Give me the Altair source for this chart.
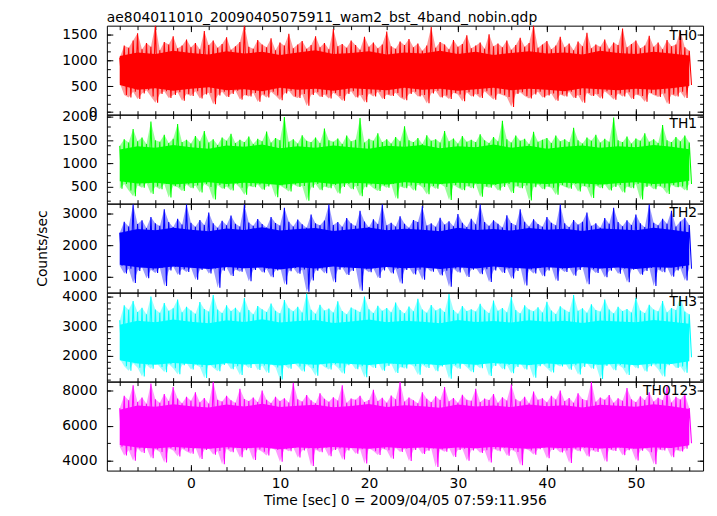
import math
import altair as alt
import pandas as pd

TITLE = "ae804011010_20090405075911_wam2_bst_4band_nobin.qdp"
X_TITLE = "Time [sec] 0 = 2009/04/05 07:59:11.956"
Y_TITLE = "Counts/sec"
PANEL_NAMES = ["TH0", "TH1", "TH2", "TH3", "TH0123"]
COLORS = ["#ff0000", "#00ff00", "#0000ff", "#00ffff", "#ff00ff"]

# fine samples: one upper and one lower value read per half second
T_START = -8.0
T_STEP = 0.5
# dense core of each light curve: upper / lower edge read every 2 s
CORE_STEP = 2.0

TH0_HIGH = [
    1050, 1280, 1240, 1380, 1520, 1210, 1330, 1260, 1680, 1190, 1350, 1300, 1460, 1230, 1280, 1400,
    1250, 1330, 1210, 1560, 1290, 1380, 1240, 1310, 1440, 1200, 1270, 1350, 1680, 1260, 1220, 1390,
    1300, 1250, 1420, 1190, 1340, 1280, 1510, 1230, 1300, 1370, 1220, 1290, 1460, 1250, 1330, 1210,
    1600, 1270, 1310, 1240, 1380, 1290, 1200, 1450, 1260, 1340, 1230, 1300, 1550, 1270, 1220, 1360,
    1290, 1410, 1250, 1320, 1180, 1280, 1640, 1240, 1350, 1300, 1210, 1390, 1260, 1310, 1480, 1230,
    1280, 1340, 1220, 1500, 1270, 1320, 1250, 1380, 1200, 1290, 1430, 1260, 1330, 1680, 1240, 1300,
    1370, 1210, 1280, 1450, 1250, 1320, 1190, 1360, 1270, 1530, 1230, 1300, 1260, 1400, 1220, 1340,
    1290, 1610, 1250, 1310, 1380, 1230, 1280, 1470, 1260, 1340, 1210, 1390, 1270, 1300, 1560, 1250, 1180,
]
TH0_LOW = [
    560, 330, 280, 390, 250, 360, 420, 300, 180, 350, 400, 270, 330, 380, 220, 350,
    310, 400, 260, 340, 370, 150, 320, 390, 290, 350, 410, 240, 330, 300, 370, 200,
    340, 280, 390, 320, 230, 360, 410, 300, 270, 350, 120, 330, 380, 290, 340, 260,
    370, 310, 220, 350, 400, 280, 330, 190, 360, 300, 390, 250, 340, 310, 370, 280,
    230, 350, 390, 300, 330, 170, 360, 410, 280, 320, 250, 370, 340, 210, 380, 300,
    350, 270, 400, 320, 240, 360, 330, 290, 100, 350, 380, 310, 260, 340, 390, 280,
    320, 360, 220, 340, 300, 390, 270, 330, 180, 370, 310, 350, 260, 400, 330, 240,
    360, 300, 380, 250, 340, 310, 200, 370, 330, 290, 360, 160, 340, 300, 390, 270, 520,
]
TH1_HIGH = [
    1380, 1520, 1450, 1740, 1480, 1560, 1420, 1900, 1500, 1470, 1620, 1440, 1530, 1850, 1460, 1510,
    1430, 1590, 1480, 1700, 1450, 1520, 1400, 1560, 1490, 1640, 1440, 1510, 1460, 1580, 1420, 1530,
    1480, 1690, 1450, 1550, 1500, 2000, 1470, 1520, 1430, 1610, 1490, 1460, 1560, 1440, 1750, 1500,
    1470, 1540, 1420, 1600, 1480, 1510, 1980, 1450, 1530, 1490, 1650, 1460, 1520, 1430, 1570, 1480,
    1800, 1500, 1460, 1550, 1420, 1610, 1490, 1520, 1450, 1700, 1480, 1540, 1430, 1590, 1470, 1510,
    1460, 1630, 1500, 1440, 1570, 1480, 1920, 1520, 1450, 1600, 1490, 1530, 1420, 1680, 1470, 1510,
    1550, 1440, 1600, 1480, 1520, 1460, 1770, 1500, 1430, 1560, 1490, 1620, 1450, 1530, 1470, 1990,
    1500, 1460, 1580, 1430, 1540, 1490, 1650, 1470, 1520, 1440, 1830, 1500, 1460, 1570, 1480, 1600, 1450,
]
TH1_LOW = [
    460, 560, 420, 300, 530, 480, 580, 350, 510, 450, 560, 270, 520, 490, 410, 550,
    470, 530, 380, 560, 500, 230, 540, 460, 510, 420, 570, 480, 330, 520, 490, 550,
    440, 510, 560, 280, 530, 470, 400, 550, 500, 520, 200, 480, 560, 430, 510, 470,
    540, 360, 500, 560, 450, 520, 300, 490, 550, 470, 410, 530, 480, 560, 250, 510,
    470, 530, 420, 550, 490, 340, 520, 460, 560, 500, 220, 540, 480, 430, 520, 470,
    560, 290, 510, 480, 540, 420, 500, 560, 370, 520, 470, 530, 210, 490, 550, 450,
    510, 480, 330, 540, 500, 460, 560, 400, 520, 490, 260, 530, 470, 550, 420, 500,
    540, 380, 510, 470, 560, 230, 500, 530, 450, 520, 480, 350, 540, 490, 510, 430, 560,
]
TH2_HIGH = [
    2400, 2750, 2600, 3300, 2680, 2800, 2550, 2900, 2700, 2620, 3150, 2740, 2580, 2850, 2660, 3300,
    2720, 2590, 2810, 2650, 3050, 2700, 2560, 2780, 2640, 2950, 2690, 2600, 3300, 2730, 2620, 2840,
    2680, 2570, 2900, 2710, 2630, 3200, 2750, 2600, 2820, 2670, 2560, 2980, 2700, 2640, 2790, 3300,
    2650, 2740, 2590, 2870, 2700, 2620, 3100, 2760, 2580, 2830, 2680, 3300, 2640, 2720, 2600, 2930,
    2690, 2560, 2810, 2740, 3250, 2630, 2700, 2590, 2880, 2660, 2770, 2610, 3000, 2720, 2580, 2850,
    2670, 3300, 2740, 2620, 2800, 2690, 2570, 2960, 2710, 2640, 3150, 2750, 2600, 2830, 2680, 2590,
    2900, 2720, 2640, 3300, 2700, 2580, 2810, 2660, 2750, 3050, 2620, 2700, 2560, 2870, 2690, 3200,
    2740, 2610, 2800, 2650, 2980, 2700, 2580, 3300, 2720, 2640, 2850, 2690, 3100, 2600, 2760, 2880, 2650,
]
TH2_LOW = [
    1350, 1100, 1250, 800, 1180, 1300, 950, 1220, 1120, 1280, 700, 1200, 1320, 1060, 1240, 1150,
    1290, 900, 1210, 1330, 1100, 1260, 650, 1190, 1300, 1020, 1230, 1160, 1280, 850, 1210, 1310,
    1130, 1250, 980, 1200, 1320, 750, 1170, 1280, 1090, 1230, 520, 880, 1190, 1260, 1110, 1340,
    820, 1220, 1290, 1050, 1180, 1310, 550, 1240, 1140, 1270, 960, 1200, 1330, 1100, 1250, 780,
    1210, 1300, 1070, 1230, 900, 1280, 1160, 1320, 1040, 1190, 680, 1260, 1130, 1300, 990, 1220,
    1290, 1080, 1240, 830, 1200, 1310, 1120, 1260, 940, 1180, 1330, 720, 1230, 1100, 1280, 1010,
    1200, 1320, 870, 1250, 1150, 1290, 1030, 1210, 1300, 760, 1240, 1120, 1270, 980, 1190, 1310,
    1090, 1250, 820, 1220, 1300, 1060, 1180, 1280, 700, 1230, 1140, 1310, 1000, 1200, 1270, 880, 1250,
]
TH3_HIGH = [
    3200, 3700, 3550, 3850, 3480, 3620, 3400, 4000, 3560, 3450, 3780, 3520, 3600, 3900, 3470, 3650,
    3530, 3420, 3810, 3580, 3490, 4050, 3560, 3440, 3700, 3510, 3620, 3460, 3950, 3540, 3400, 3680,
    3570, 3480, 3760, 3520, 3430, 3880, 3600, 3500, 3650, 3460, 4100, 3550, 3420, 3720, 3530, 3590,
    3460, 3840, 3510, 3400, 3630, 3550, 3480, 4000, 3570, 3440, 3690, 3520, 3610, 3470, 3800, 3540,
    3430, 3660, 3500, 3920, 3560, 3450, 3710, 3530, 3600, 3480, 4080, 3540, 3420, 3680, 3510, 3570,
    3490, 3750, 3550, 3440, 3860, 3520, 3610, 3470, 3980, 3540, 3430, 3700, 3560, 3500, 3640, 3460,
    3820, 3530, 3410, 3670, 3550, 3480, 4050, 3520, 3600, 3450, 3740, 3540, 3490, 3900, 3560, 3430,
    3650, 3510, 3580, 3460, 3960, 3530, 3440, 3720, 3560, 3500, 3850, 3470, 3610, 3540, 4000, 3490, 3400,
]
TH3_LOW = [
    1900, 1650, 1500, 1750, 1600, 1300, 1700, 1560, 1800, 1620, 1450, 1720, 1580, 1380, 1680, 1760,
    1540, 1700, 1620, 1250, 1740, 1600, 1480, 1690, 1770, 1550, 1650, 1350, 1710, 1590, 1800, 1520,
    1670, 1430, 1730, 1610, 1200, 1690, 1560, 1780, 1640, 1470, 1700, 1580, 1330, 1750, 1620, 1540,
    1720, 1600, 1400, 1680, 1760, 1550, 1650, 1280, 1710, 1590, 1790, 1500, 1660, 1730, 1420, 1620,
    1570, 1740, 1650, 1360, 1700, 1590, 1770, 1480, 1640, 1720, 1230, 1680, 1560, 1750, 1610, 1450,
    1700, 1580, 1780, 1320, 1660, 1730, 1550, 1690, 1410, 1620, 1760, 1540, 1700, 1260, 1650, 1720,
    1590, 1440, 1710, 1640, 1780, 1530, 1680, 1370, 1620, 1750, 1560, 1700, 1220, 1660, 1740, 1510,
    1690, 1600, 1350, 1730, 1580, 1770, 1470, 1650, 1710, 1550, 1300, 1680, 1760, 1590, 1640, 1430, 1950,
]
TH0123_HIGH = [
    7000, 7700, 7450, 8300, 7350, 7600, 7250, 8400, 7500, 7300, 7800, 7400, 8200, 7550, 7280, 7650,
    7420, 7900, 7330, 7580, 7260, 8500, 7480, 7370, 7700, 7450, 7310, 8100, 7520, 7400, 7600, 7350,
    8000, 7470, 7290, 7650, 7410, 7560, 7320, 8450, 7500, 7380, 7750, 7440, 7270, 7850, 7530, 7360,
    7620, 7430, 8300, 7310, 7550, 7480, 7700, 7350, 7460, 8050, 7400, 7590, 7300, 7720, 7510, 8500,
    7380, 7600, 7450, 7280, 7900, 7530, 7340, 7680, 7460, 8200, 7390, 7570, 7300, 7760, 7480, 7420,
    8100, 7350, 7540, 7460, 7800, 7300, 7620, 7430, 8350, 7500, 7380, 7650, 7270, 7950, 7470, 7560,
    7330, 7700, 7490, 8000, 7400, 7580, 7310, 7850, 7520, 7440, 8500, 7360, 7610, 7480, 7750, 7300,
    7560, 7420, 8150, 7500, 7340, 7680, 7460, 7900, 7380, 7590, 7450, 8250, 7320, 7640, 7490, 7800, 7000,
]
TH0123_LOW = [
    4800, 4300, 4600, 4000, 4700, 4450, 4750, 4150, 4650, 4500, 3900, 4720, 4580, 4250, 4680, 4530,
    4400, 4760, 4100, 4620, 4700, 4350, 4560, 3800, 4690, 4480, 4740, 4200, 4600, 4710, 4050, 4650,
    4520, 4300, 4730, 4610, 3950, 4670, 4540, 4760, 4180, 4590, 4700, 3700, 4640, 4480, 4750, 4260,
    4620, 4700, 4070, 4580, 4730, 4400, 4660, 3850, 4710, 4550, 4330, 4690, 4600, 4120, 4740, 4500,
    4680, 3990, 4620, 4750, 4380, 4570, 4700, 3650, 4640, 4520, 4730, 4220, 4610, 4690, 4000, 4580,
    4720, 4450, 4600, 3900, 4680, 4550, 4740, 4280, 4630, 4500, 3750, 4700, 4590, 4350, 4660, 4760,
    4150, 4610, 4700, 4470, 4580, 3880, 4690, 4540, 4730, 4240, 4620, 4500, 4710, 3960, 4650, 4560,
    4740, 4320, 4600, 4680, 4020, 4570, 4710, 4480, 3800, 4650, 4590, 4740, 4200, 4620, 4530, 4690, 5000,
]

TH0_CORE_HIGH = [1080, 1150, 1120, 1180, 1140, 1110, 1170, 1130, 1160, 1100, 1150, 1190, 1120, 1140,
                 1170, 1110, 1150, 1130, 1180, 1120, 1160, 1100, 1140, 1170, 1130, 1150, 1110, 1180,
                 1140, 1120, 1160, 1130, 1090]
TH0_CORE_LOW = [520, 430, 460, 410, 450, 480, 420, 440, 400, 470, 430, 450, 410, 460, 440, 420, 470,
                430, 450, 410, 440, 470, 420, 450, 430, 400, 460, 440, 420, 450, 430, 460, 500]
TH1_CORE_HIGH = [1300, 1370, 1340, 1400, 1350, 1320, 1390, 1360, 1410, 1330, 1370, 1340, 1390, 1350,
                 1320, 1380, 1360, 1400, 1330, 1370, 1350, 1410, 1340, 1380, 1320, 1360, 1390, 1340,
                 1370, 1350, 1400, 1360, 1310]
TH1_CORE_LOW = [620, 570, 590, 550, 580, 600, 560, 590, 570, 540, 580, 600, 560, 590, 570, 550, 600,
                580, 560, 590, 570, 550, 600, 580, 560, 590, 570, 550, 580, 600, 560, 580, 630]
TH2_CORE_HIGH = [2400, 2520, 2480, 2560, 2500, 2450, 2540, 2490, 2580, 2470, 2520, 2550, 2460, 2510,
                 2570, 2480, 2530, 2500, 2450, 2560, 2490, 2520, 2470, 2550, 2500, 2530, 2460, 2540,
                 2510, 2480, 2560, 2500, 2420]
TH2_CORE_LOW = [1380, 1300, 1260, 1320, 1280, 1240, 1310, 1270, 1290, 1230, 1300, 1260, 1320, 1280,
                1250, 1310, 1270, 1290, 1240, 1300, 1260, 1320, 1280, 1250, 1300, 1270, 1310, 1260,
                1290, 1240, 1300, 1280, 1360]
TH3_CORE_HIGH = [3050, 3180, 3130, 3220, 3150, 3100, 3200, 3140, 3230, 3120, 3170, 3210, 3110, 3160,
                 3220, 3130, 3180, 3150, 3100, 3210, 3140, 3170, 3120, 3200, 3150, 3180, 3110, 3190,
                 3160, 3130, 3210, 3150, 3080]
TH3_CORE_LOW = [1850, 1740, 1700, 1760, 1720, 1680, 1750, 1710, 1730, 1670, 1740, 1700, 1760, 1720,
                1690, 1750, 1710, 1730, 1680, 1740, 1700, 1760, 1720, 1690, 1740, 1710, 1750, 1700,
                1730, 1680, 1740, 1720, 1820]
TH0123_CORE_HIGH = [6900, 7150, 7080, 7220, 7100, 7030, 7200, 7090, 7250, 7060, 7140, 7190, 7050,
                    7120, 7230, 7070, 7160, 7110, 7020, 7200, 7090, 7150, 7060, 7210, 7100, 7170,
                    7040, 7190, 7130, 7080, 7220, 7110, 6950]
TH0123_CORE_LOW = [4900, 4760, 4700, 4790, 4730, 4680, 4770, 4720, 4750, 4660, 4760, 4710, 4790, 4730,
                   4690, 4770, 4720, 4750, 4680, 4760, 4710, 4790, 4730, 4690, 4760, 4720, 4770, 4700,
                   4750, 4680, 4760, 4730, 4880]

HIGHS = [TH0_HIGH, TH1_HIGH, TH2_HIGH, TH3_HIGH, TH0123_HIGH]
LOWS = [TH0_LOW, TH1_LOW, TH2_LOW, TH3_LOW, TH0123_LOW]
CORE_HIGHS = [TH0_CORE_HIGH, TH1_CORE_HIGH, TH2_CORE_HIGH, TH3_CORE_HIGH, TH0123_CORE_HIGH]
CORE_LOWS = [TH0_CORE_LOW, TH1_CORE_LOW, TH2_CORE_LOW, TH3_CORE_LOW, TH0123_CORE_LOW]

X_DOMAIN = [-9.45, 57.55]
X_LABELS = [0, 10, 20, 30, 40, 50]
X_MINOR_STEP = 2
Y_DOMAINS = [[-50, 1665], [140, 2050], [490, 3330], [1130, 4130], [3440, 8510]]
Y_LABELS = [[0, 500, 1000, 1500], [500, 1000, 1500, 2000], [1000, 2000, 3000],
            [2000, 3000, 4000], [4000, 6000, 8000]]
Y_MINOR_STEPS = [500 / 3, 200, 1000 / 3, 200, 1000]

W = 603
H = 90
FONT = "DejaVu Sans"
FS = 14


def multiples(step, lo, hi):
    return [k * step for k in range(math.ceil(lo / step), math.floor(hi / step) + 1)]


X_MINOR = multiples(X_MINOR_STEP, X_DOMAIN[0], X_DOMAIN[1])


def series_frame(hi, lo):
    rows = []
    for i, (h, l) in enumerate(zip(hi, lo)):
        t = T_START + T_STEP * i
        rows.append({"t": t, "v": h})
        rows.append({"t": t + T_STEP / 2, "v": l})
    return pd.DataFrame(rows)


def band_frame(hi, lo, step):
    n = min(len(hi), len(lo))
    return pd.DataFrame({
        "t": [T_START + step * i for i in range(n)],
        "hi": hi[:n],
        "lo": lo[:n],
    })


def tick_axis(orient, values, size, offset):
    return alt.Axis(orient=orient, values=values, tickSize=size, offset=offset,
                    labels=False, domain=False, grid=False, ticks=True, title=None,
                    tickColor="black", tickWidth=1)


panels = []
for idx, name in enumerate(PANEL_NAMES):
    df = series_frame(HIGHS[idx], LOWS[idx])
    bf = band_frame(HIGHS[idx], LOWS[idx], T_STEP)
    cf = band_frame(CORE_HIGHS[idx], CORE_LOWS[idx], CORE_STEP)
    ydom = Y_DOMAINS[idx]
    ymaj = Y_LABELS[idx]
    ymin = multiples(Y_MINOR_STEPS[idx], ydom[0], ydom[1])
    xs = alt.Scale(domain=X_DOMAIN, nice=False, zero=False)
    ys = alt.Scale(domain=ydom, nice=False, zero=False)
    last = idx == len(PANEL_NAMES) - 1
    middle = idx == 2

    if last:
        x_lab = alt.Axis(orient="bottom", values=X_LABELS, ticks=False, tickSize=0, domain=False,
                         grid=False, labelPadding=6, labelFont=FONT, labelFontSize=FS,
                         labelColor="black", format="d", title=X_TITLE, titleFont=FONT,
                         titleFontSize=FS, titleFontWeight="normal", titleColor="black",
                         titlePadding=3)
    else:
        x_lab = None
    y_kw = dict(orient="left", values=ymaj, ticks=False, tickSize=0, domain=False, grid=False,
                labelPadding=10, labelFont=FONT, labelFontSize=FS, labelColor="black",
                format="d", labelOverlap=False)
    if middle:
        y_lab = alt.Axis(title=Y_TITLE, titleFont=FONT, titleFontSize=FS,
                         titleFontWeight="normal", titleColor="black", titlePadding=12, **y_kw)
    else:
        y_lab = alt.Axis(title=None, **y_kw)

    fringe = alt.Chart(bf).mark_area(color=COLORS[idx], opacity=0.4, clip=True).encode(
        x=alt.X("t:Q", scale=xs, axis=x_lab),
        y=alt.Y("hi:Q", scale=ys, axis=y_lab),
        y2="lo:Q",
    )
    line = alt.Chart(df).mark_line(color=COLORS[idx], strokeWidth=1.1, clip=True).encode(
        x=alt.X("t:Q", scale=xs, axis=None),
        y=alt.Y("v:Q", scale=ys, axis=None),
    )
    core = alt.Chart(cf).mark_area(color=COLORS[idx], opacity=1, clip=True).encode(
        x=alt.X("t:Q", scale=xs, axis=None),
        y=alt.Y("hi:Q", scale=ys, axis=None),
        y2="lo:Q",
    )
    inv = alt.Chart(df.iloc[:1]).mark_point(opacity=0)
    t_layers = []
    for xo, yo in [("top", "right"), ("bottom", "left")]:
        t_layers.append(inv.encode(
            x=alt.X("t:Q", scale=xs, axis=tick_axis(xo, X_LABELS, 6, -H)),
            y=alt.Y("v:Q", scale=ys, axis=tick_axis(yo, ymaj, 6, -W)),
        ))
        t_layers.append(inv.encode(
            x=alt.X("t:Q", scale=xs, axis=tick_axis(xo, X_MINOR, 4, -H)),
            y=alt.Y("v:Q", scale=ys, axis=tick_axis(yo, ymin, 3.5, -W)),
        ))
    label = alt.Chart(pd.DataFrame({"name": [name]})).mark_text(
        align="right", baseline="top", font=FONT, fontSize=FS, color="black"
    ).encode(text="name:N", x=alt.value(W - 6), y=alt.value(3))

    panel = alt.layer(fringe, line, core, *t_layers, label).resolve_axis(
        x="independent", y="independent"
    ).properties(width=W, height=H)
    panels.append(panel)

chart = alt.vconcat(
    *panels,
    spacing=0,
    bounds="flush",
    padding={"left": 27, "top": 0, "right": 5, "bottom": 0},
    title=alt.TitleParams(text=TITLE, anchor="start", frame="group", font=FONT,
                          fontSize=FS, fontWeight="normal", color="black", offset=0),
).configure_view(stroke="black", strokeWidth=1).configure_axis(grid=False)

chart.save("out.html", embed_options={"renderer": "svg", "actions": False})
